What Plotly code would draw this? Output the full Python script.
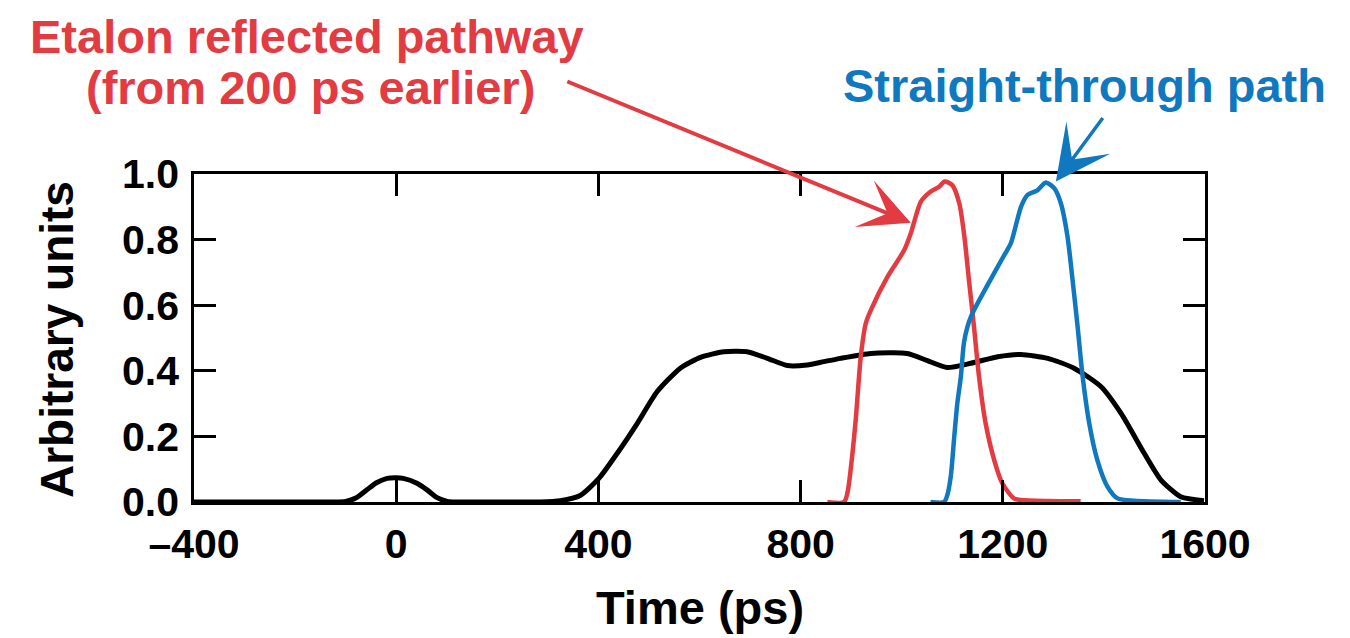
import plotly.graph_objects as go

# Time axis in picoseconds, intensity in arbitrary units
total_t = [-400, -300, -200, -120, -100, -80, -58, -40, -18, 0, 14, 40, 61, 80, 101, 120,
           200, 285, 325, 364, 401, 437, 477, 516, 562, 602, 648, 694, 734, 774, 813, 846,
           879, 939, 1011, 1051, 1090, 1137, 1190, 1236, 1289, 1341, 1394, 1434, 1480,
           1513, 1552, 1598]
total_y = [0, 0, 0, 0, 0.002, 0.012, 0.037, 0.058, 0.072, 0.074, 0.072, 0.058, 0.037, 0.014,
           0.002, 0, 0, 0, 0.004, 0.02, 0.072, 0.148, 0.24, 0.336, 0.408, 0.441, 0.458, 0.458,
           0.438, 0.416, 0.418, 0.428, 0.438, 0.453, 0.453, 0.431, 0.41, 0.423, 0.443, 0.45,
           0.438, 0.408, 0.352, 0.27, 0.148, 0.067, 0.016, 0.004]

etalon_t = [853, 886, 893, 899, 909, 919, 929, 939, 972, 1005, 1018, 1038, 1057, 1074, 1085,
            1100, 1114, 1124, 1133, 1143, 1153, 1166, 1183, 1199, 1222, 1236, 1289, 1354]
etalon_y = [0, 0, 0.03, 0.098, 0.25, 0.443, 0.545, 0.585, 0.687, 0.768, 0.819, 0.916, 0.946,
            0.961, 0.977, 0.966, 0.91, 0.809, 0.677, 0.534, 0.382, 0.24, 0.128, 0.057, 0.011,
            0.006, 0.003, 0.002]

straight_t = [1057, 1084, 1090, 1097, 1104, 1110, 1117, 1123, 1130, 1137, 1143, 1170, 1203,
              1216, 1236, 1249, 1269, 1285, 1302, 1315, 1328, 1338, 1348, 1358, 1371, 1387,
              1407, 1427, 1460, 1552]
straight_y = [0, 0, 0.02, 0.077, 0.2, 0.3, 0.382, 0.484, 0.534, 0.565, 0.585, 0.662, 0.753,
              0.789, 0.9, 0.936, 0.951, 0.974, 0.956, 0.91, 0.809, 0.677, 0.534, 0.382, 0.24,
              0.128, 0.047, 0.011, 0.004, 0.0]

x_ticks = [-400, 0, 400, 800, 1200, 1600]
x_tick_text = ["\u2013400", "0", "400", "800", "1200", "1600"]
y_ticks = [0, 0.2, 0.4, 0.6, 0.8, 1.0]
y_tick_text = ["0.0", "0.2", "0.4", "0.6", "0.8", "1.0"]

RED = "#E23B41"
BLUE = "#0F78BF"
FONT = "Liberation Sans, Arial, Helvetica, sans-serif"

fig = go.Figure()
fig.add_trace(go.Scatter(x=total_t, y=total_y, mode="lines",
                         line=dict(color="black", width=5, shape="spline", smoothing=0.6)))
fig.add_trace(go.Scatter(x=etalon_t, y=etalon_y, mode="lines",
                         line=dict(color=RED, width=4.5, shape="spline", smoothing=0.7)))
fig.add_trace(go.Scatter(x=straight_t, y=straight_y, mode="lines",
                         line=dict(color=BLUE, width=4.5, shape="spline", smoothing=0.7)))

axis_common = dict(showgrid=False, zeroline=False, showline=True, linecolor="black",
                   linewidth=2.5, mirror="ticks", ticks="inside", ticklen=22,
                   tickwidth=2.5, tickcolor="black",
                   tickfont=dict(family=FONT, size=41, color="black", weight="bold"))

fig.update_xaxes(range=[-400, 1600], tickvals=x_ticks, ticktext=x_tick_text,
                 ticklabelstandoff=4, **axis_common)
fig.update_yaxes(range=[0, 1.0], tickvals=y_ticks, ticktext=y_tick_text,
                 ticklabelstandoff=4, **axis_common)

L, R, T, B = 194, 145, 174, 136
W, H = 1350, 638
pw, ph = W - L - R, H - T - B


def px(xp):
    return (xp - L) / pw


def py(yp):
    return (H - B - yp) / ph


def label(text, x, y, color, size=46, angle=0):
    return dict(text=text, xref="paper", yref="paper", x=px(x), y=py(y),
                xanchor="center", yanchor="middle", textangle=angle, showarrow=False,
                font=dict(family=FONT, size=size, color=color, weight="bold"))


annotations = [
    label("Etalon reflected pathway", 307, 36, RED, 47),
    label("(from 200 ps earlier)", 310, 87, RED, 47),
    label("Straight-through path", 1084, 85, BLUE, 47),
    label("Arbitrary units", 57, 340, "black", 46, -90),
    label("Time (ps)", 700, 607, "black", 47),
    # arrow pointing at the reflected pulse
    dict(x=1018, y=0.851, xref="x", yref="y", ax=-345, ay=-142, axref="pixel", ayref="pixel",
         text="", showarrow=True, arrowhead=3, arrowsize=2.1, arrowwidth=4, arrowcolor=RED),
    # arrow pointing at the straight-through pulse
    dict(x=1305, y=0.977, xref="x", yref="y", ax=48, ay=-65, axref="pixel", ayref="pixel",
         text="", showarrow=True, arrowhead=3, arrowsize=2.6, arrowwidth=3.5, arrowcolor=BLUE),
]

fig.update_layout(width=W, height=H, margin=dict(l=L, r=R, t=T, b=B),
                  plot_bgcolor="white", paper_bgcolor="white", showlegend=False,
                  annotations=annotations)

fig.write_html("out.html")
